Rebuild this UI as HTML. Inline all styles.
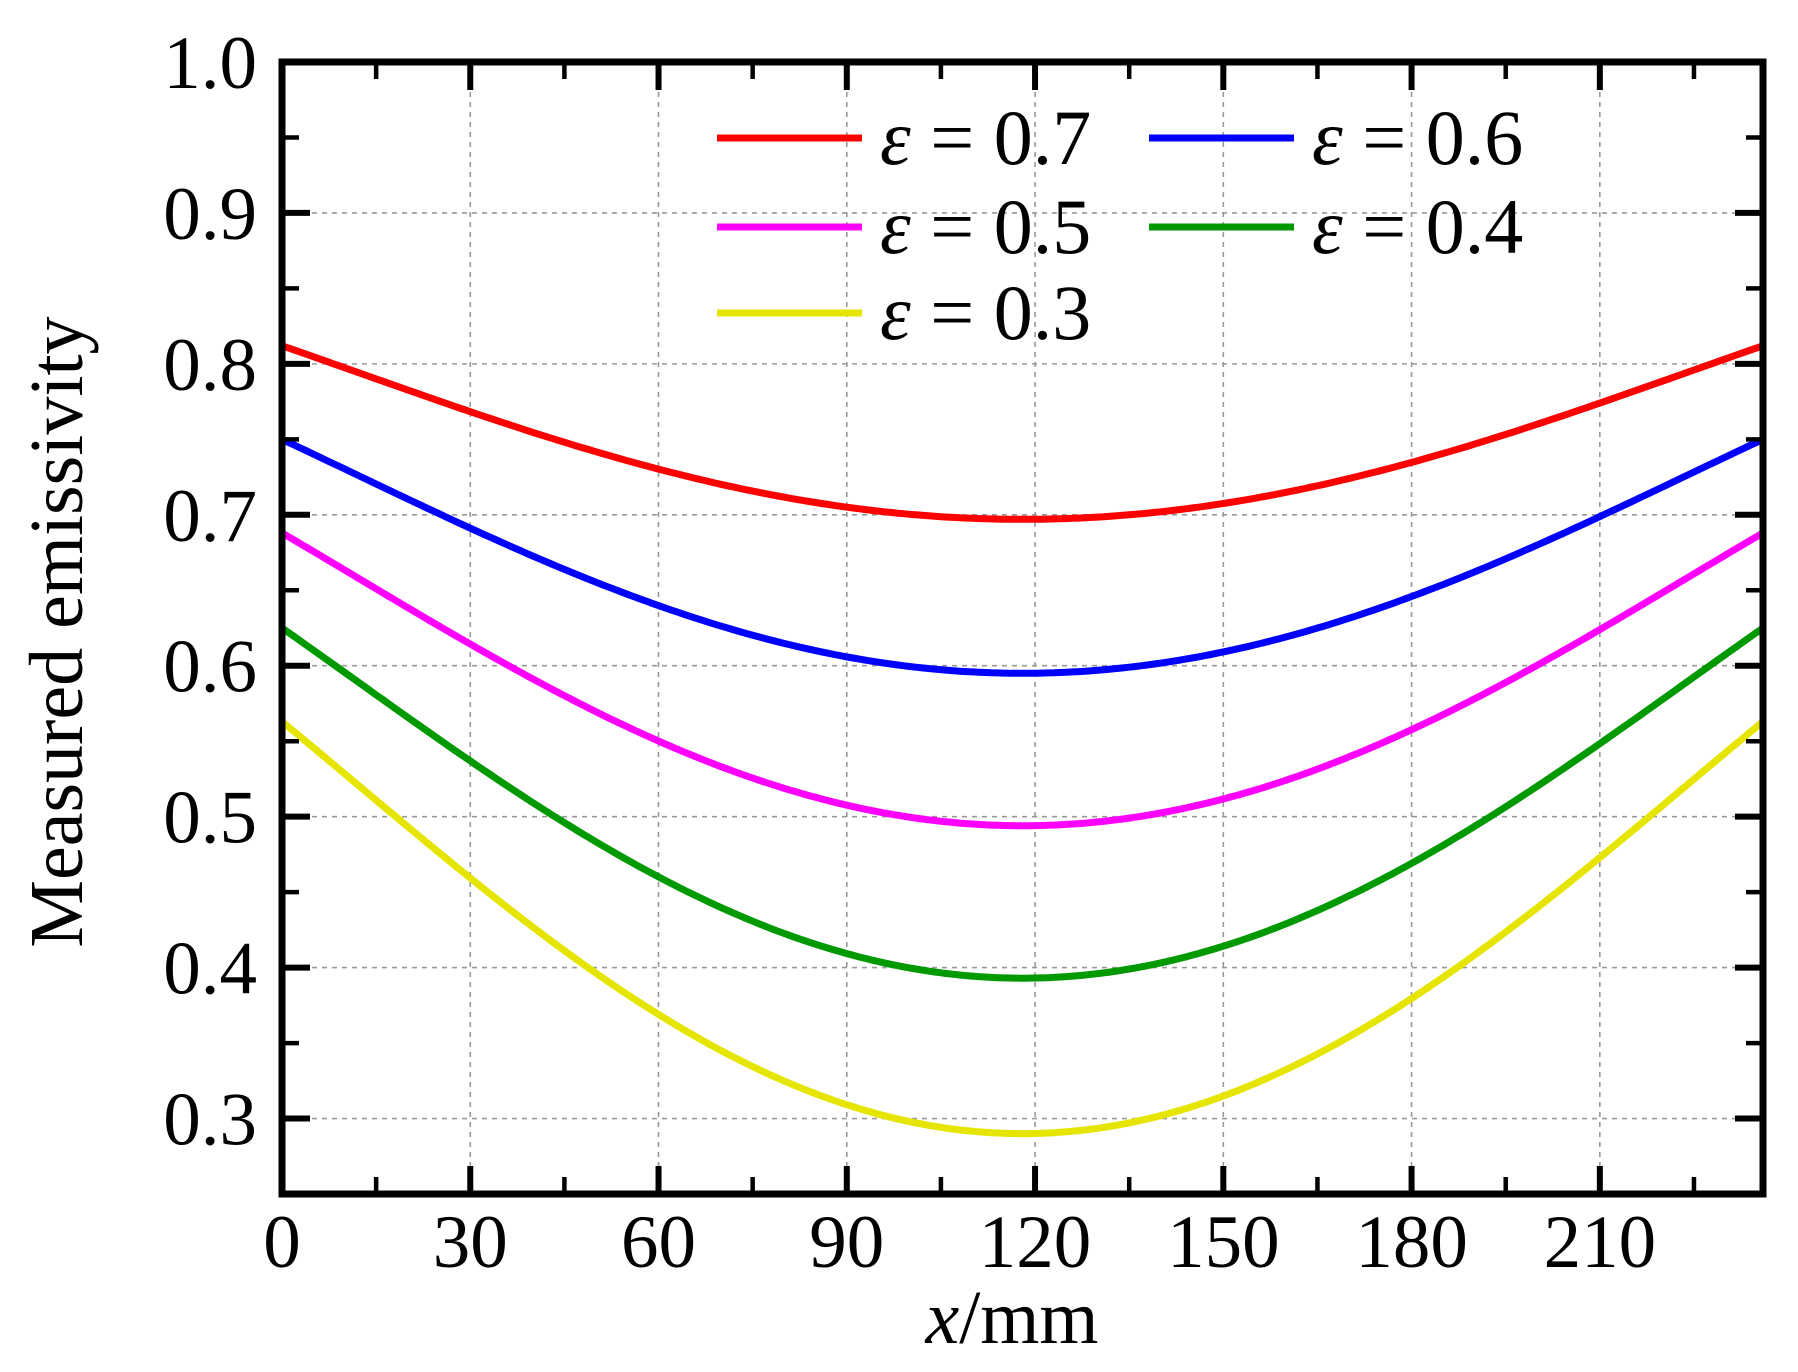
<!DOCTYPE html>
<html><head><meta charset="utf-8"><style>
html,body{margin:0;padding:0;background:#fff}
svg{display:block}
text{font-family:"Liberation Serif","DejaVu Serif",serif;fill:#000}
</style></head><body>
<svg id="s" width="1798" height="1372" viewBox="0 0 1798 1372" xmlns="http://www.w3.org/2000/svg">
<g id="grid" stroke="#999" stroke-width="1.6" stroke-dasharray="5,5"></g>
<g id="curves" fill="none" stroke-width="7" stroke-linecap="butt"></g>
<g id="ticks" stroke="#000"></g>
<rect x="282" y="62" width="1481" height="1132" fill="none" stroke="#000" stroke-width="7"/>
<g font-size="75" text-anchor="end" id="ylab"></g>
<g font-size="75" text-anchor="middle" id="xlab"></g>
<text x="1012" y="1343" font-size="76" text-anchor="middle"><tspan font-style="italic">x</tspan>/mm</text>
<text transform="translate(82,632) rotate(-90)" font-size="76" text-anchor="middle">Measured emissivity</text>
<g id="leg" font-size="78"></g>
</svg>
<script>
var L=282,R=1763,T=62,B=1194,XM=236,Y0=0.25,Y1=1.0;
function X(v){return L+(R-L)*v/XM}
function Y(v){return B-(B-T)*(v-Y0)/(Y1-Y0)}
var ns="http://www.w3.org/2000/svg";
function el(p,t,a,txt){var e=document.createElementNS(ns,t);for(var k in a)e.setAttribute(k,a[k]);if(txt!=null)e.innerHTML=txt;document.getElementById(p).appendChild(e);return e}
for(var v=30;v<XM;v+=30)el("grid","line",{x1:X(v),x2:X(v),y1:T,y2:B});
for(var i=3;i<=9;i++){var y=Y(i/10);el("grid","line",{x1:L,x2:R,y1:y,y2:y});}
var C=[["#ff0000",0.812,0.697],["#0000ff",0.750,0.595],["#ff00ff",0.688,0.494],["#009900",0.625,0.393],["#e5e500",0.563,0.290]];
C.forEach(function(c){var d="";for(var x=0;x<=XM;x+=1){var u=Math.abs(x-118)/118;var f=u*u+0.26*u*u*(1-u*u);var yv=c[2]+(c[1]-c[2])*f;d+=(x?"L":"M")+X(x).toFixed(1)+","+Y(yv).toFixed(1);}el("curves","path",{d:d,stroke:c[0]});});
for(var v=0;v<=XM;v+=15){var maj=v%30==0,l=maj?28:17,w=maj?6:4.5;var x=X(v);
el("ticks","line",{x1:x,x2:x,y1:B,y2:B-l,"stroke-width":w});el("ticks","line",{x1:x,x2:x,y1:T,y2:T+l,"stroke-width":w});
if(maj)el("xlab","text",{x:x,y:1267},String(v));}
for(var i=5;i<=20;i++){var yv=i*0.05;if(yv<0.25)continue;var maj=i%2==0,l=maj?28:17,w=maj?6:4.5;var y=Y(yv);
el("ticks","line",{x1:L,x2:L+l,y1:y,y2:y,"stroke-width":w});el("ticks","line",{x1:R,x2:R-l,y1:y,y2:y,"stroke-width":w});
if(maj)el("ylab","text",{x:257,y:y+26},(i/20).toFixed(1));}
var LG=[["#ff0000","0.7",717,138],["#0000ff","0.6",1149,138],["#ff00ff","0.5",717,227],["#009900","0.4",1149,227],["#e5e500","0.3",717,313]];
LG.forEach(function(g){el("leg","line",{x1:g[2],x2:g[2]+145,y1:g[3],y2:g[3],stroke:g[0],"stroke-width":7});
el("leg","text",{x:g[2]+163,y:g[3]+26},'<tspan font-style="italic">ε</tspan> = '+g[1]);});
</script>
</body></html>
